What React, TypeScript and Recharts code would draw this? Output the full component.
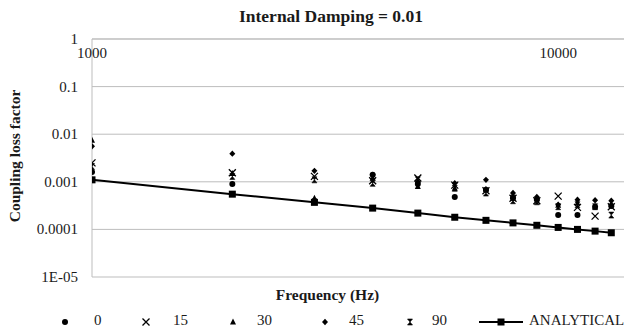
import React from 'react';
import {
  ComposedChart,
  Scatter,
  Line,
  XAxis,
  YAxis,
  CartesianGrid,
} from 'recharts';

const FREQS = [1000, 2000, 3000, 4000, 5000, 6000, 7000, 8000, 9000, 10000, 11000, 12000, 13000];

const ANGLE_0 = [0.0016, 0.0009, 0.0004, 0.0014, 0.0009, 0.00048, 0.00068, 0.00045, 0.00042, 0.0002, 0.0002, 0.0003, 0.00031];
const ANGLE_15 = [0.0025, 0.00155, 0.0013, 0.00105, 0.0012, 0.00085, 0.00065, 0.00045, 0.0004, 0.0005, 0.00029, 0.00019, 0.0003];
const ANGLE_30 = [0.0075, 0.0015, 0.00045, 0.0012, 0.0008, 0.00073, 0.0007, 0.00052, 0.00045, 0.00032, 0.00036, 0.0003, 0.00034];
const ANGLE_45 = [0.0056, 0.0039, 0.0017, 0.0014, 0.001, 0.00093, 0.0011, 0.00058, 0.00048, 0.00033, 0.00042, 0.00041, 0.0004];
const ANGLE_90 = [0.0021, 0.0013, 0.0011, 0.00093, 0.0011, 0.00073, 0.00058, 0.0004, 0.00038, 0.0003, 0.00033, 0.0003, 0.0002];
const ANALYTICAL = [0.0011, 0.00055, 0.00037, 0.00028, 0.00022, 0.00018, 0.000155, 0.000137, 0.000122, 0.00011, 0.0001, 0.000092, 0.000085];

const X_TICKS = [1000, 10000];
const Y_TICKS = [0.00001, 0.0001, 0.001, 0.01, 0.1, 1];
const Y_LABELS: Record<string, string> = {
  '0.00001': '1E-05',
  '0.0001': '0.0001',
  '0.001': '0.001',
  '0.01': '0.01',
  '0.1': '0.1',
  '1': '1',
};

const FONT = "'Times New Roman', 'Liberation Serif', serif";
const GRID = '#bdbdbd';
const INK = '#1a1a1a';

const data = FREQS.map((f, i) => ({
  f,
  a0: ANGLE_0[i],
  a15: ANGLE_15[i],
  a30: ANGLE_30[i],
  a45: ANGLE_45[i],
  a90: ANGLE_90[i],
  analytical: ANALYTICAL[i],
}));

const Dot = ({ cx, cy }: any) => <circle cx={cx} cy={cy} r={3} fill="#000" />;
const Cross = ({ cx, cy }: any) => (
  <path d={`M${cx - 3.5},${cy - 3.5}L${cx + 3.5},${cy + 3.5}M${cx - 3.5},${cy + 3.5}L${cx + 3.5},${cy - 3.5}`} stroke="#000" strokeWidth={1.3} />
);
const Tri = ({ cx, cy }: any) => (
  <path d={`M${cx},${cy - 3.5}L${cx + 3},${cy + 2.5}L${cx - 3},${cy + 2.5}Z`} fill="#000" />
);
const Diamond = ({ cx, cy }: any) => (
  <path d={`M${cx},${cy - 3.2}L${cx + 3},${cy}L${cx},${cy + 3.2}L${cx - 3},${cy}Z`} fill="#000" />
);
const Bowtie = ({ cx, cy }: any) => (
  <path d={`M${cx - 2.5},${cy - 3}L${cx + 2.5},${cy - 3}L${cx - 2.5},${cy + 3}L${cx + 2.5},${cy + 3}Z`} fill="#000" stroke="#000" strokeWidth={0.6} />
);
const Square = ({ cx, cy }: any) => (
  <rect x={cx - 3.5} y={cy - 3.5} width={7} height={7} fill="#000" />
);

const TopTick = ({ x, payload }: any) => (
  <text x={x} y={58} textAnchor="middle" style={{ fontSize: 15, fontFamily: FONT }} fill={INK}>
    {payload.value}
  </text>
);

const YTick = ({ x, y, payload }: any) => (
  <text x={x} y={y} dy={5} textAnchor="end" style={{ fontSize: 15, fontFamily: FONT }} fill={INK}>
    {Y_LABELS[String(payload.value)] ?? String(payload.value)}
  </text>
);

const LEGEND_ITEMS = [
  { label: '0', Icon: Dot, iconX: 65, textX: 94 },
  { label: '15', Icon: Cross, iconX: 146, textX: 173 },
  { label: '30', Icon: Tri, iconX: 233, textX: 257 },
  { label: '45', Icon: Diamond, iconX: 325, textX: 349 },
  { label: '90', Icon: Bowtie, iconX: 410, textX: 432 },
];

const Icon = ({ children }: any) => (
  <svg width={12} height={12} style={{ display: 'block' }}>{children}</svg>
);

// legend drawn as html so it picks up the same serif as the titles
const CustomLegend = () => (
  <div style={{ position: 'relative', width: 632, height: 24, fontSize: 15 }}>
    {LEGEND_ITEMS.map(({ label, Icon: Mark, iconX, textX }) => (
      <React.Fragment key={label}>
        <div style={{ position: 'absolute', left: iconX - 6, top: 6 }}>
          <Icon><Mark cx={6} cy={6} /></Icon>
        </div>
        <div style={{ position: 'absolute', left: textX, top: 2 }}>{label}</div>
      </React.Fragment>
    ))}
    <div style={{ position: 'absolute', left: 479, top: 6 }}>
      <svg width={44} height={12} style={{ display: 'block' }}>
        <line x1={0} y1={6} x2={44} y2={6} stroke="#000" strokeWidth={2} />
        <Square cx={22} cy={6} />
      </svg>
    </div>
    <div style={{ position: 'absolute', left: 529, top: 2, whiteSpace: 'nowrap' }}>ANALYTICAL</div>
  </div>
);

export default function App() {
  return (
    <div style={{ position: 'relative', width: 632, height: 334, margin: -8, background: '#fff', fontFamily: FONT, color: INK, overflow: 'hidden' }}>
      <div style={{ position: 'absolute', top: 6, left: 0, width: 662, textAlign: 'center', fontWeight: 'bold', fontSize: 17.5 }}>
        Internal Damping = 0.01
      </div>
      <div
        style={{
          position: 'absolute',
          left: 15,
          top: 156,
          transform: 'translate(-50%, -50%) rotate(-90deg)',
          whiteSpace: 'nowrap',
          fontWeight: 'bold',
          fontSize: 15.5,
        }}
      >
        Coupling loss factor
      </div>
      <div style={{ position: 'absolute', top: 286, left: 0, width: 655, textAlign: 'center', fontWeight: 'bold', fontSize: 15.5 }}>
        Frequency (Hz)
      </div>
      <div style={{ position: 'absolute', top: 310, left: 0 }}>
        <CustomLegend />
      </div>
      <ComposedChart width={632} height={334} data={data} margin={{ top: 19, right: 0, bottom: 57, left: 0 }}>
        <CartesianGrid stroke={GRID} vertical={false} />
        <XAxis
          dataKey="f"
          type="number"
          scale="log"
          domain={[1000, 14400]}
          ticks={X_TICKS}
          orientation="top"
          height={20}
          allowDataOverflow
          axisLine={{ stroke: GRID }}
          tickLine={false}
          tick={<TopTick />}
          interval={0}
        />
        <YAxis
          type="number"
          scale="log"
          domain={[0.00001, 1]}
          ticks={Y_TICKS}
          width={92}
          allowDataOverflow
          axisLine={{ stroke: GRID }}
          tickLine={false}
          tickSize={0}
          tickMargin={14}
          tick={<YTick />}
          interval={0}
        />
        <Line dataKey="analytical" stroke="#000" strokeWidth={2} dot={<Square />} isAnimationActive={false} />
        <Scatter dataKey="a0" shape={<Dot />} isAnimationActive={false} />
        <Scatter dataKey="a15" shape={<Cross />} isAnimationActive={false} />
        <Scatter dataKey="a30" shape={<Tri />} isAnimationActive={false} />
        <Scatter dataKey="a45" shape={<Diamond />} isAnimationActive={false} />
        <Scatter dataKey="a90" shape={<Bowtie />} isAnimationActive={false} />
      </ComposedChart>
    </div>
  );
}
